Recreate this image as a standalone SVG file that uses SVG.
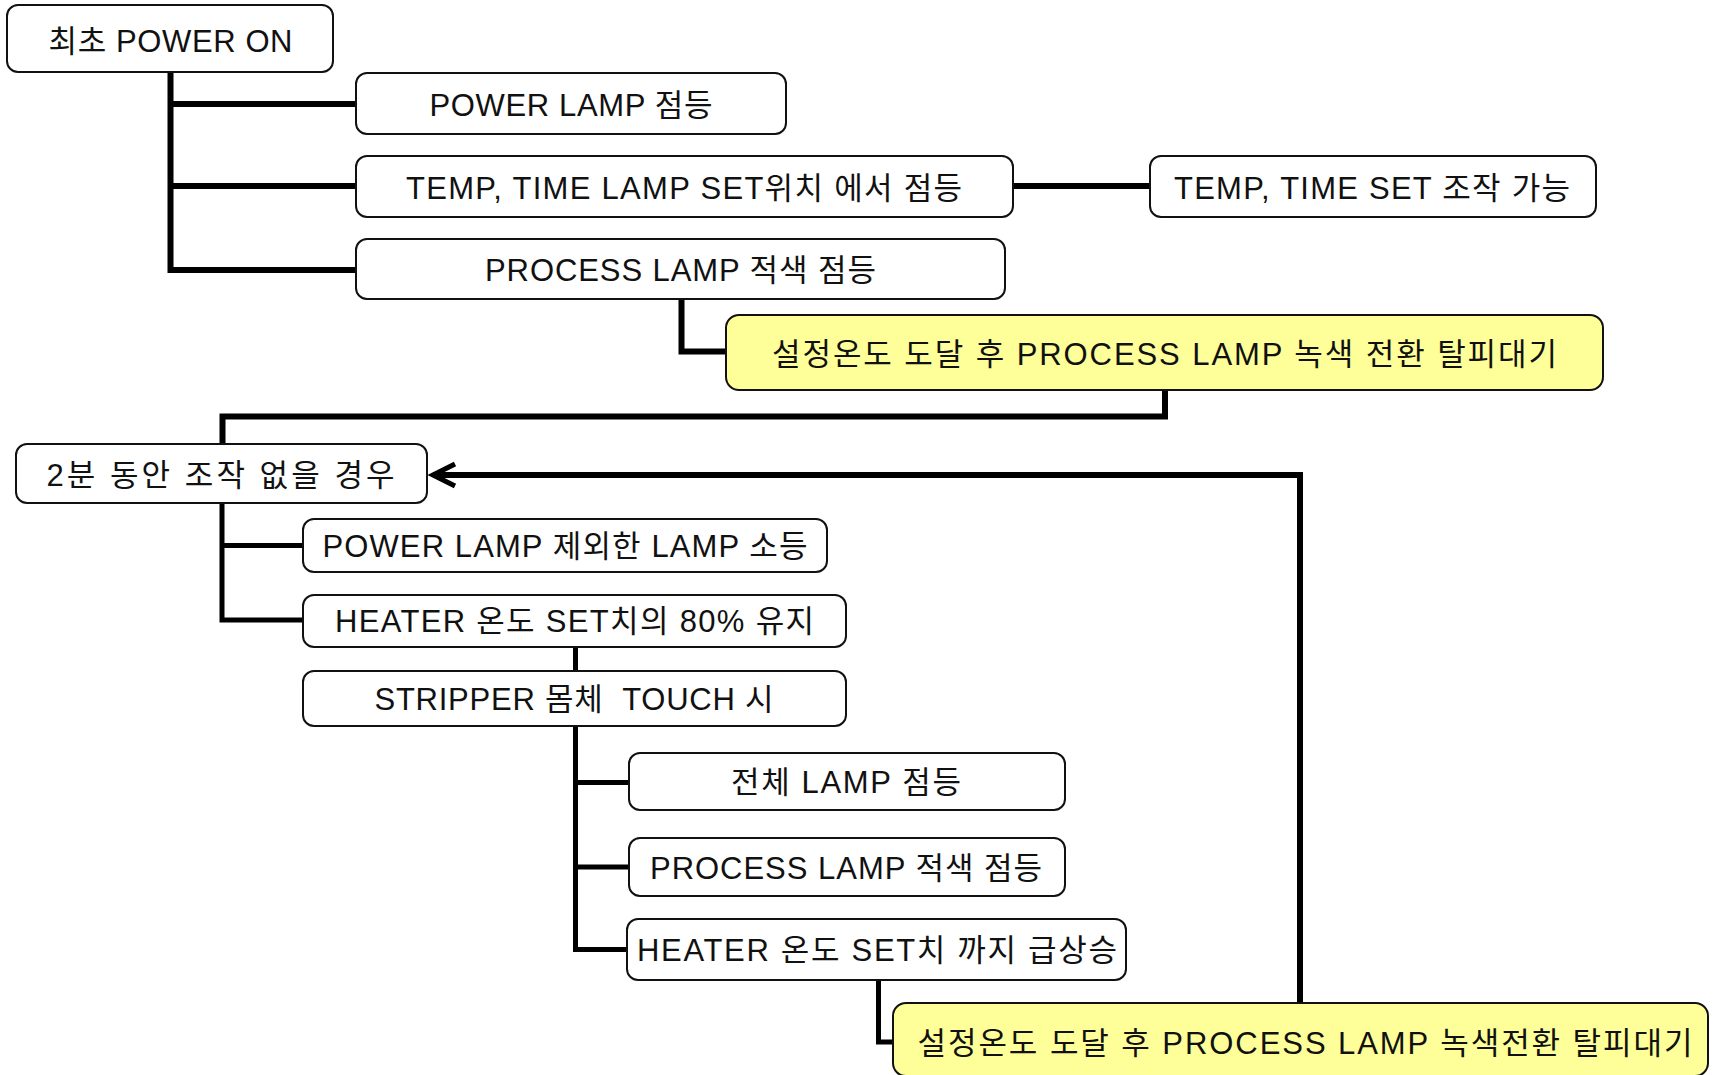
<svg xmlns="http://www.w3.org/2000/svg" width="1717" height="1075" viewBox="0 0 1717 1075">
<style>
.box{fill:#fff;stroke:#111;stroke-width:2}
.hl{fill:#ffff99;stroke:#111;stroke-width:2}
.t{font-family:"Liberation Sans","Noto Sans CJK KR",sans-serif;font-size:31px;fill:#111;text-anchor:middle}
.c{fill:none;stroke:#000;stroke-width:6;stroke-linejoin:miter}
.c5{fill:none;stroke:#000;stroke-width:5;stroke-linejoin:miter}
</style>
<defs>
<marker id="chev" markerUnits="userSpaceOnUse" markerWidth="34" markerHeight="34" viewBox="-28 -17 34 34" refX="0" refY="0" orient="auto">
<path d="M-22,-11 L0,0 L-22,11" fill="none" stroke="#000" stroke-width="5" stroke-linejoin="miter" stroke-miterlimit="10"/>
</marker>
</defs>
<g id="connectors">
<path class="c" d="M170.5,72 V270 H356 M170.5,104 H356 M170.5,186 H356"/>
<path class="c" d="M1013,186 H1150"/>
<path class="c" d="M681.5,299 V351.5 H726"/>
<path class="c" d="M1165,390 V416.5 H222.5 V444"/>
<path class="c5" d="M222,503 V620 H303 M222,545.5 H303"/>
<path class="c5" d="M575.5,647 V671"/>
<path class="c5" d="M575.5,726 V949.5 H627 M575.5,782.5 H629 M575.5,867 H629"/>
<path class="c5" d="M878.5,980 V1042 H893"/>
<path class="c" d="M1300,1003 V475 H433" marker-end="url(#chev)"/>
</g>
<g id="n1"><rect class="box" x="7" y="5" width="326" height="67" rx="11"/><text class="t" x="170.5" y="52" textLength="244" lengthAdjust="spacing">최초 POWER ON</text></g>
<g id="n2"><rect class="box" x="356" y="73" width="430" height="61" rx="11"/><text class="t" x="571" y="116" textLength="283" lengthAdjust="spacing">POWER LAMP 점등</text></g>
<g id="n3"><rect class="box" x="356" y="156" width="657" height="61" rx="11"/><text class="t" x="684" y="199" textLength="556" lengthAdjust="spacing">TEMP, TIME LAMP SET위치 에서 점등</text></g>
<g id="n4"><rect class="box" x="1150" y="156" width="446" height="61" rx="11"/><text class="t" x="1372" y="199" textLength="396" lengthAdjust="spacing">TEMP, TIME SET 조작 가능</text></g>
<g id="n5"><rect class="box" x="356" y="239" width="649" height="60" rx="11"/><text class="t" x="680.5" y="281" textLength="391" lengthAdjust="spacing">PROCESS LAMP 적색 점등</text></g>
<g id="n6"><rect class="hl" x="726" y="315" width="877" height="75" rx="13"/><text class="t" x="1164.5" y="365" textLength="785" lengthAdjust="spacing">설정온도 도달 후 PROCESS LAMP 녹색 전환 탈피대기</text></g>
<g id="n7"><rect class="box" x="16" y="444" width="411" height="59" rx="11"/><text class="t" x="220.5" y="486" textLength="348" lengthAdjust="spacing">2분 동안 조작 없을 경우</text></g>
<g id="n8"><rect class="box" x="303" y="519" width="524" height="53" rx="11"/><text class="t" x="565" y="557" textLength="485" lengthAdjust="spacing">POWER LAMP 제외한 LAMP 소등</text></g>
<g id="n9"><rect class="box" x="303" y="595" width="543" height="52" rx="11"/><text class="t" x="574.5" y="632" textLength="479" lengthAdjust="spacing">HEATER 온도 SET치의 80% 유지</text></g>
<g id="n10"><rect class="box" x="303" y="671" width="543" height="55" rx="11"/><text class="t" x="574" y="710" textLength="399" lengthAdjust="spacing" xml:space="preserve">STRIPPER 몸체  TOUCH 시</text></g>
<g id="n11"><rect class="box" x="629" y="753" width="436" height="57" rx="11"/><text class="t" x="846" y="793" textLength="230" lengthAdjust="spacing">전체 LAMP 점등</text></g>
<g id="n12"><rect class="box" x="629" y="838" width="436" height="58" rx="11"/><text class="t" x="846" y="879" textLength="392" lengthAdjust="spacing">PROCESS LAMP 적색 점등</text></g>
<g id="n13"><rect class="box" x="627" y="919" width="499" height="61" rx="11"/><text class="t" x="877" y="961" textLength="480" lengthAdjust="spacing">HEATER 온도 SET치 까지 급상승</text></g>
<g id="n14"><rect class="hl" x="893" y="1003" width="815" height="73" rx="13"/><text class="t" x="1305" y="1054" textLength="775" lengthAdjust="spacing">설정온도 도달 후 PROCESS LAMP 녹색전환 탈피대기</text></g>
</svg>
